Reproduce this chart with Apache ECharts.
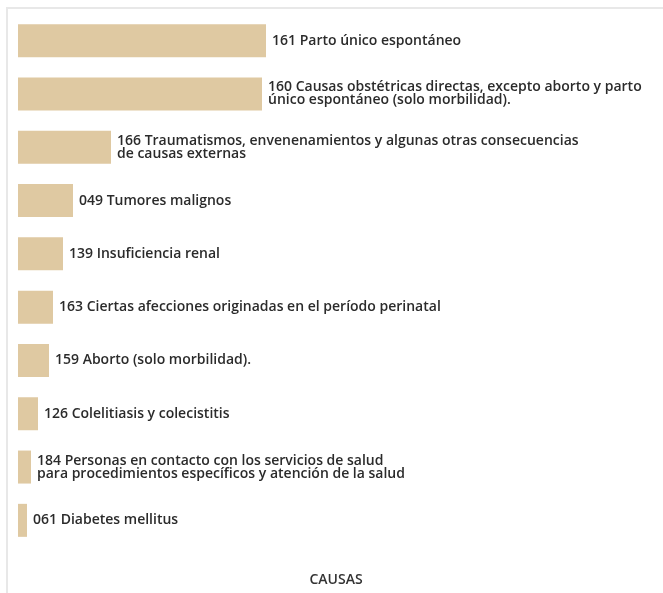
<!DOCTYPE html>
<html>
<head>
<meta charset="utf-8">
<script src="https://cdn.jsdelivr.net/npm/echarts@6/dist/echarts.min.js"></script>
<style>
  html, body { margin: 0; padding: 0; background: #fff; }
  #frame {
    position: absolute; left: 6px; top: 7px; width: 700px; height: 620px;
    border-top: 2px solid #e8e8e8; border-left: 2px solid #e8e8e8;
  }
  #chart { position: absolute; left: 0; top: 0; width: 663px; height: 593px; }
</style>
</head>
<body>
<div id="frame"></div>
<div id="chart"></div>
<script>
var causas = [
  "161 Parto único espontáneo",
  "160 Causas obstétricas directas, excepto aborto y parto\núnico espontáneo (solo morbilidad).",
  "166 Traumatismos, envenenamientos y algunas otras consecuencias\nde causas externas",
  "049 Tumores malignos",
  "139 Insuficiencia renal",
  "163 Ciertas afecciones originadas en el período perinatal",
  "159 Aborto (solo morbilidad).",
  "126 Colelitiasis y colecistitis",
  "184 Personas en contacto con los servicios de salud\npara procedimientos específicos y atención de la salud",
  "061 Diabetes mellitus"
];
var egresos = [992, 976, 372, 220, 180, 140, 124, 80, 52, 36];

var myChart = echarts.init(document.getElementById("chart"));
var option = {
  animation: false,
  grid: { left: 18, right: 9, top: 14, bottom: 46 },
  xAxis: {
    type: "value",
    min: 0,
    max: 2544,
    name: "CAUSAS",
    nameLocation: "middle",
    nameGap: 26,
    nameTextStyle: { color: "#333", fontSize: 14, fontWeight: 600, fontFamily: "Open Sans" },
    axisLine: { show: false },
    axisTick: { show: false },
    axisLabel: { show: false },
    splitLine: { show: false }
  },
  yAxis: {
    type: "category",
    inverse: true,
    data: causas,
    axisLine: { show: false },
    axisTick: { show: false },
    axisLabel: { show: false }
  },
  series: [
    {
      type: "bar",
      data: egresos,
      barWidth: 33,
      itemStyle: { color: "#dfc9a2" },
      label: {
        show: true,
        position: "right",
        distance: 6,
        formatter: function (p) { return p.name; },
        color: "#2b2b2b",
        fontSize: 14,
        fontWeight: 600,
        lineHeight: 13,
        fontFamily: "Open Sans"
      }
    }
  ]
};
myChart.setOption(option);
</script>
</body>
</html>
